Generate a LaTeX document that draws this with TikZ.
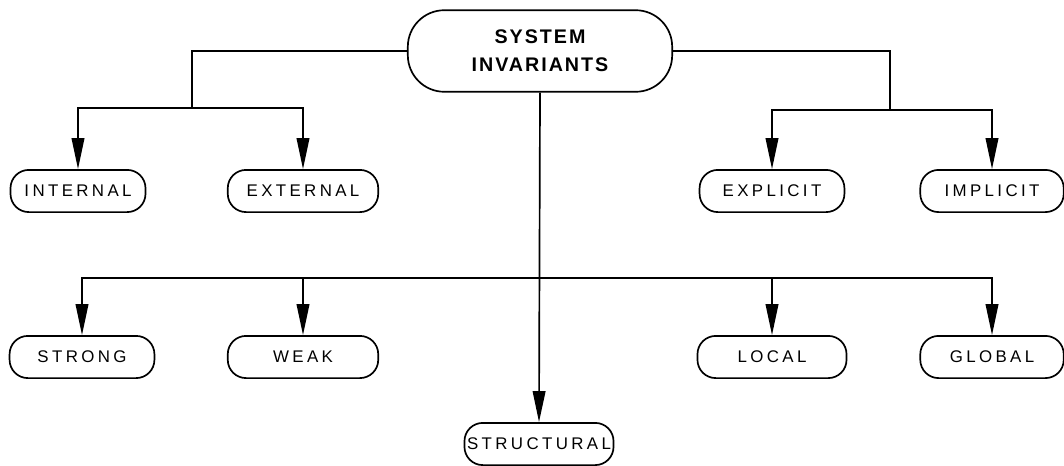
\documentclass[tikz,border=0pt]{standalone}
\usepackage{fontspec}
\setmainfont{Liberation Sans}
\newfontfamily\spaced[LetterSpace=20]{Liberation Sans}
\newfontfamily\headfont[LetterSpace=10]{Liberation Sans}
\usetikzlibrary{arrows.meta}

\begin{document}
\begin{tikzpicture}[x=0.025cm, y=-0.025cm,
  line width=1.2pt,
  kind/.style={draw, rounded corners=13pt, minimum height=30pt, inner sep=0pt,
    font=\spaced\fontsize{12}{14}\selectfont},
  head/.style={draw, rounded corners=26pt, minimum width=188pt, minimum height=58pt,
    align=center, font=\headfont\bfseries\fontsize{14}{20}\selectfont},
  down/.style={-{Triangle[length=22pt,width=9pt]}}]
\useasboundingbox (0,0) rectangle (1064,466);
% root
\node[head] (root) at (540,51) {SYSTEM\\INVARIANTS};
% first row
\node[kind, minimum width=96pt] (internal) at (78,191) {INTERNAL};
\node[kind, minimum width=107pt] (external) at (303,191) {EXTERNAL};
\node[kind, minimum width=103pt] (explicit) at (772,191) {EXPLICIT};
\node[kind, minimum width=102pt] (implicit) at (992,191) {IMPLICIT};
% second row
\node[kind, minimum width=103pt] (strong) at (82,357) {STRONG};
\node[kind, minimum width=107pt] (weak) at (303,357) {WEAK};
\node[kind, minimum width=106pt] (local) at (772,357) {LOCAL};
\node[kind, minimum width=102pt] (global) at (992,357) {GLOBAL};
% bottom
\node[kind, minimum width=106pt] (structural) at (539,444) {STRUCTURAL};
% branch points
\coordinate (lsplit) at (192,108);
\coordinate (rsplit) at (890,110);
\coordinate (bus) at (539,278);
\draw (root.west) -| (lsplit);
\draw (root.east) -| (rsplit);
\draw[down] (lsplit) -| (internal.north);
\draw[down] (lsplit) -| (external.north);
\draw[down] (rsplit) -| (explicit.north);
\draw[down] (rsplit) -| (implicit.north);
\draw[down] (root.south) -- (structural.north);
\draw[down] (bus) -| (strong.north);
\draw[down] (bus) -| (weak.north);
\draw[down] (bus) -| (local.north);
\draw[down] (bus) -| (global.north);
\end{tikzpicture}
\end{document}
